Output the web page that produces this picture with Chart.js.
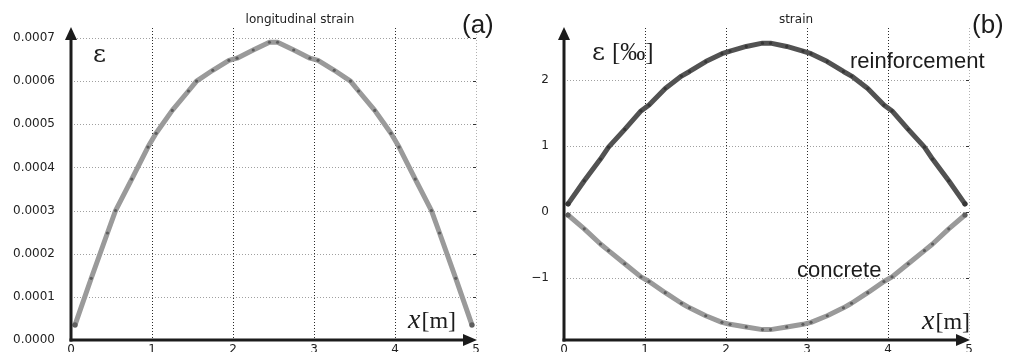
<!DOCTYPE html>
<html>
<head>
<meta charset="utf-8">
<script src="https://cdn.jsdelivr.net/npm/chart.js@4.4.1/dist/chart.umd.min.js"></script>
<style>
  html, body { margin: 0; padding: 0; background: #ffffff; }
  #wrap { position: relative; width: 1011px; height: 352px; overflow: hidden; background: #ffffff; }
  canvas { position: absolute; top: 0; }
</style>
</head>
<body>
<div id="wrap">
  <canvas id="panelA" width="505" height="352" style="left:0;width:505px;height:352px"></canvas>
  <canvas id="panelB" width="506" height="352" style="left:505px;width:506px;height:352px"></canvas>
</div>
<script>
// Sampling points along the beam [m]
const xNodes = [0.05, 0.25, 0.45, 0.55, 0.75, 0.95, 1.05, 1.25, 1.45, 1.55,
                1.75, 1.95, 2.05, 2.25, 2.45, 2.55, 2.75, 2.95, 3.05, 3.25,
                3.45, 3.55, 3.75, 3.95, 4.05, 4.25, 4.45, 4.55, 4.75, 4.95];

// (a) longitudinal strain [-]
const axialStrain = [0.000035, 0.000143, 0.000248, 0.000300, 0.000373, 0.000447, 0.000479, 0.000532, 0.000577, 0.000600,
                     0.000625, 0.000648, 0.000653, 0.000672, 0.000690, 0.000690, 0.000672, 0.000653, 0.000648, 0.000625,
                     0.000600, 0.000577, 0.000532, 0.000479, 0.000447, 0.000373, 0.000300, 0.000248, 0.000143, 0.000035];

// (b) strain in reinforcement and concrete [‰]
const reinforcementStrain = [0.12, 0.47, 0.80, 0.98, 1.25, 1.53, 1.62, 1.87, 2.06, 2.13,
                             2.28, 2.40, 2.44, 2.51, 2.56, 2.56, 2.51, 2.44, 2.40, 2.28,
                             2.13, 2.06, 1.87, 1.62, 1.53, 1.25, 0.98, 0.80, 0.47, 0.12];
const concreteStrain = [-0.05, -0.26, -0.49, -0.59, -0.79, -0.99, -1.06, -1.23, -1.39, -1.46,
                        -1.58, -1.68, -1.71, -1.75, -1.79, -1.79, -1.75, -1.71, -1.68, -1.58,
                        -1.46, -1.39, -1.23, -1.06, -0.99, -0.79, -0.59, -0.49, -0.26, -0.05];

// Tick values
const xTickValues = [0, 1, 2, 3, 4, 5];
const axialTickValues = [0, 0.0001, 0.0002, 0.0003, 0.0004, 0.0005, 0.0006, 0.0007];
const strainTickValues = [-1, 0, 1, 2];

const TICK_FONT = { family: 'DejaVu Sans', size: 12 };
const INK = '#1c1c1c';

function pairs(ys) { return xNodes.map((x, i) => ({ x: x, y: ys[i] })); }
function endRadius(ctx) { return (ctx.dataIndex === 0 || ctx.dataIndex === xNodes.length - 1) ? 2.6 : 1.6; }

// Grid, arrowed axes and annotations drawn on top of the library's scales
function framePlugin(cfg) {
  return {
    id: 'frame',
    beforeDatasetsDraw(chart) {
      const { ctx, chartArea: a, scales: { x, y } } = chart;
      ctx.save();
      ctx.lineWidth = 1;
      ctx.setLineDash([1, 2]);
      // horizontal grid lines
      ctx.strokeStyle = '#a0a0a0';
      y.ticks.forEach(t => {
        const py = Math.round(y.getPixelForValue(t.value)) + 0.5;
        if (Math.abs(py - a.bottom) < 3) return;
        ctx.beginPath(); ctx.moveTo(a.left, py); ctx.lineTo(a.right, py); ctx.stroke();
      });
      // vertical grid lines
      x.ticks.forEach(t => {
        if (t.value === 0) return;
        const px = Math.round(x.getPixelForValue(t.value)) + 0.5;
        ctx.strokeStyle = t.value === 5 ? '#b0b0b0' : '#2a2a2a';
        ctx.beginPath(); ctx.moveTo(px, a.top); ctx.lineTo(px, a.bottom); ctx.stroke();
      });
      // small stubs on the right edge
      ctx.setLineDash([]);
      ctx.strokeStyle = '#333';
      y.ticks.forEach(t => {
        const py = Math.round(y.getPixelForValue(t.value)) + 0.5;
        if (Math.abs(py - a.bottom) < 3) return;
        ctx.beginPath(); ctx.moveTo(a.right - 3, py); ctx.lineTo(a.right, py); ctx.stroke();
      });
      ctx.restore();
    },
    afterDatasetsDraw(chart) {
      const { ctx, chartArea: a } = chart;
      const L = Math.round(a.left), B = Math.round(a.bottom), R = a.right, T = a.top;
      ctx.save();
      ctx.strokeStyle = INK; ctx.fillStyle = INK;
      ctx.lineWidth = 3;
      ctx.beginPath(); ctx.moveTo(L, B + 1.5); ctx.lineTo(L, T + 10); ctx.stroke();
      ctx.beginPath(); ctx.moveTo(L - 1.5, B); ctx.lineTo(R - 12, B); ctx.stroke();
      // arrow heads
      ctx.beginPath(); ctx.moveTo(L, T - 1); ctx.lineTo(L - 6, T + 12); ctx.lineTo(L + 6, T + 12); ctx.closePath(); ctx.fill();
      ctx.beginPath(); ctx.moveTo(R + 1, B); ctx.lineTo(R - 13, B - 6); ctx.lineTo(R - 13, B + 6); ctx.closePath(); ctx.fill();

      // titles and annotations
      ctx.textBaseline = 'alphabetic';
      ctx.fillStyle = '#222';
      ctx.font = '12px "DejaVu Sans"';
      ctx.textAlign = 'center';
      ctx.fillText(cfg.title, cfg.titleX, 23);
      ctx.textAlign = 'left';
      ctx.fillStyle = INK;
      ctx.font = '26px "Liberation Sans"';
      ctx.fillText(cfg.tag, cfg.tagX, 33);
      // y quantity
      ctx.font = '25px "DejaVu Serif"';
      ctx.fillText('ε', cfg.epsX, cfg.epsY);
      if (cfg.epsUnit) {
        const w = ctx.measureText('ε').width;
        ctx.font = '25px "Liberation Serif"';
        ctx.fillText(cfg.epsUnit, cfg.epsX + w + 7, cfg.epsY);
      }
      // x quantity
      ctx.font = 'italic 28px "Liberation Serif"';
      ctx.fillText('x', cfg.xLabX, cfg.xLabY);
      const xw = ctx.measureText('x').width;
      ctx.font = '24px "Liberation Serif"';
      ctx.fillText('[m]', cfg.xLabX + xw + 1, cfg.xLabY);
      // series labels
      ctx.font = '22px "Liberation Sans"';
      (cfg.notes || []).forEach(n => ctx.fillText(n.text, n.x, n.y));
      ctx.restore();
    }
  };
}

function makePanel(id, datasets, yMin, yMax, yTicks, yFmt, axisWidth, labelPad, rightPad, cfg) {
  return new Chart(document.getElementById(id), {
    type: 'line',
    data: { datasets: datasets },
    options: {
      responsive: false,
      devicePixelRatio: 1,
      animation: false,
      layout: { padding: { left: 0, right: rightPad, top: 28, bottom: 0 } },
      plugins: { legend: { display: false }, tooltip: { enabled: false }, title: { display: false } },
      scales: {
        x: {
          type: 'linear', min: 0, max: 5,
          afterBuildTicks: s => { s.ticks = xTickValues.map(v => ({ value: v })); },
          afterFit: s => { s.height = 12; s.paddingLeft = 0; s.paddingRight = 0; },
          grid: { display: false, drawTicks: false },
          border: { display: false },
          ticks: { font: TICK_FONT, color: '#222', padding: 3, maxRotation: 0, autoSkip: false,
                   callback: v => String(v) }
        },
        y: {
          type: 'linear', min: yMin, max: yMax,
          afterBuildTicks: s => { s.ticks = yTicks.map(v => ({ value: v })); },
          afterFit: s => { s.width = axisWidth; s.paddingTop = 0; s.paddingBottom = 0; },
          grid: { display: false, drawTicks: false },
          border: { display: false },
          ticks: { font: TICK_FONT, color: '#222', padding: labelPad, autoSkip: false, callback: yFmt }
        }
      }
    },
    plugins: [framePlugin(cfg)]
  });
}

function lineSet(values, color, dotColor) {
  return {
    data: pairs(values),
    borderColor: color,
    borderWidth: 5,
    tension: 0,
    pointRadius: endRadius,
    pointBackgroundColor: dotColor,
    pointBorderColor: dotColor,
    pointBorderWidth: 0,
    borderCapStyle: 'round',
    borderJoinStyle: 'round'
  };
}

makePanel('panelA',
  [lineSet(axialStrain, '#9a9a9a', '#5e5e5e')],
  0, 0.000723, axialTickValues, v => Number(v).toFixed(4), 71, 16, 29,
  { title: 'longitudinal strain', titleX: 300, tag: '(a)', tagX: 462,
    epsX: 93, epsY: 62, xLabX: 408, xLabY: 328 });

makePanel('panelB',
  [lineSet(reinforcementStrain, '#525252', '#363636'),
   lineSet(concreteStrain, '#9a9a9a', '#5e5e5e')],
  -1.948, 2.79, strainTickValues, v => (v < 0 ? '\u2212' + Math.abs(v) : String(v)), 59, 15, 42,
  { title: 'strain', titleX: 291, tag: '(b)', tagX: 467,
    epsX: 87, epsY: 60, epsUnit: '[‰]', xLabX: 417, xLabY: 329,
    notes: [{ text: 'reinforcement', x: 345, y: 68 }, { text: 'concrete', x: 292, y: 277 }] });
</script>
</body>
</html>
